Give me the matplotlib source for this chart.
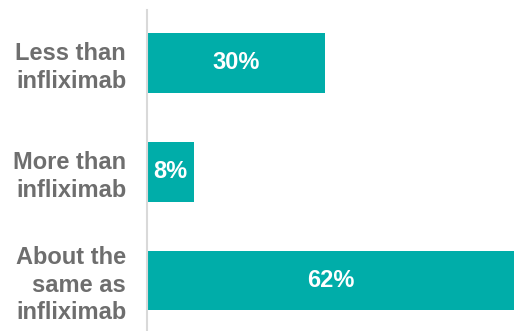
import matplotlib.pyplot as plt

plt.rcParams['font.family'] = ['Liberation Sans', 'DejaVu Sans']

categories = ["Less than\ninfliximab", "More than\ninfliximab", "About the\nsame as\ninfliximab"]
values = [30, 8, 62]

bar_color = "#00ADA9"
label_color = "#6E6E6E"

fig = plt.figure(figsize=(5.14, 3.31), dpi=100)
ax = fig.add_axes([147 / 514, 0, 1 - 147 / 514, 1 - 10 / 331])

pos = list(range(len(categories)))
bars = ax.barh(pos, values, height=0.55, color=bar_color)

for b, v in zip(bars, values):
    ax.text(b.get_x() + b.get_width() / 2, b.get_y() + b.get_height() / 2, f"{v}%",
            ha="center", va="center", color="white", fontsize=17, fontweight="bold")

ax.set_xlim(0, 62)
ax.set_ylim(2.464, -0.487)
ax.set_yticks(pos)
ax.set_yticklabels(categories, fontsize=17, fontweight="bold", color=label_color,
                   multialignment="right", linespacing=1.25)
ax.tick_params(axis="y", length=0, pad=15)
ax.set_xticks([])

for s in ["top", "right", "bottom"]:
    ax.spines[s].set_visible(False)
ax.spines["left"].set_color("#D9D9D9")
ax.spines["left"].set_linewidth(1.5)

fig.savefig("out.png", dpi=100)
